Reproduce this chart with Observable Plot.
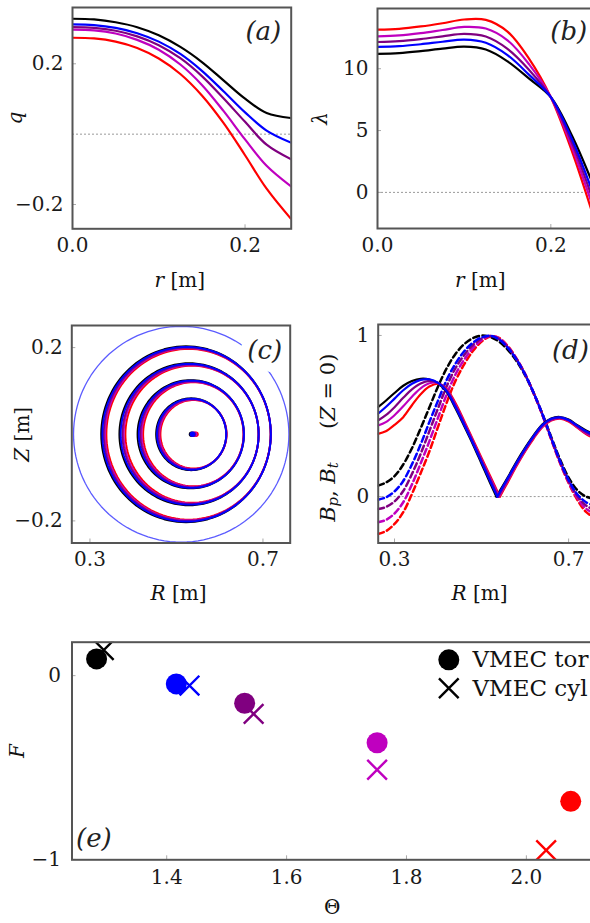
<!DOCTYPE html>
<html><head><meta charset="utf-8">
<script src="https://cdn.jsdelivr.net/npm/d3@7"></script>
<script src="https://cdn.jsdelivr.net/npm/@observablehq/plot@0.6"></script>
<style>
html,body{margin:0;padding:0;background:#fff;}
#fig{position:relative;width:590px;height:923px;overflow:hidden;background:#fff;}
</style></head><body><div id="fig"></div>
<script>
// ---------- series (five equilibria) ----------
const seriesNames  = ["case 1", "case 2", "case 3", "case 4", "case 5"];
const seriesColors = ["#000000", "#0000ff", "#800080", "#bf00bf", "#ff0000"];
const drawOrder = [0, 4, 3, 2, 1];

// ---------- (a) q(r) ----------
const rGrid = [0, 0.025, 0.05, 0.075, 0.1, 0.125, 0.15, 0.175, 0.2, 0.225, 0.253];
const q1 = [0.328, 0.326, 0.318, 0.304, 0.281, 0.248, 0.205, 0.153, 0.101, 0.060, 0.046];
const q2 = [0.312, 0.310, 0.302, 0.287, 0.263, 0.228, 0.180, 0.122, 0.062, 0.010, -0.024];
const q3 = [0.304, 0.302, 0.294, 0.278, 0.253, 0.216, 0.165, 0.102, 0.035, -0.030, -0.071];
const q4 = [0.297, 0.295, 0.286, 0.268, 0.240, 0.198, 0.140, 0.066, -0.015, -0.090, -0.148];
const q5 = [0.274, 0.272, 0.263, 0.245, 0.215, 0.171, 0.110, 0.032, -0.060, -0.155, -0.240];
const qTicks = [-0.2, 0.2];
const rTicks = [0.0, 0.2];

// ---------- (b) lambda(r) ----------
const lam1 = [11.2, 11.26, 11.42, 11.62, 11.78, 11.55, 10.6, 9.2, 7.7, 4.5, -0.1];
const lam2 = [11.76, 11.82, 11.98, 12.18, 12.35, 12.1, 11.1, 9.5, 7.7, 4.2, -0.9];
const lam3 = [12.16, 12.23, 12.4, 12.62, 12.82, 12.6, 11.6, 9.9, 7.7, 3.9, -1.5];
const lam4 = [12.62, 12.69, 12.88, 13.13, 13.38, 13.25, 12.3, 10.35, 7.7, 3.55, -2.1];
const lam5 = [13.16, 13.23, 13.42, 13.68, 13.98, 13.95, 13.0, 10.8, 7.7, 3.2, -2.8];
const lamTicks = [0, 5, 10];

// ---------- (c) flux surfaces: centre R, half-width a, half-height b (4 surfaces) ----------
const ringCenter = [
  [0.522, 0.529, 0.533, 0.534],
  [0.5235, 0.5305, 0.5345, 0.535],
  [0.525, 0.5325, 0.536, 0.5365],
  [0.5265, 0.534, 0.5375, 0.538],
  [0.528, 0.536, 0.539, 0.5395]];
const ringA = [
  [0.196, 0.161, 0.123, 0.081],
  [0.1948, 0.1595, 0.1215, 0.080],
  [0.193, 0.1575, 0.1195, 0.079],
  [0.1915, 0.156, 0.118, 0.0775],
  [0.190, 0.154, 0.116, 0.0765]];
const ringB = [
  [0.203, 0.164, 0.125, 0.083],
  [0.2015, 0.1625, 0.1238, 0.082],
  [0.200, 0.161, 0.1225, 0.081],
  [0.1985, 0.1595, 0.121, 0.080],
  [0.197, 0.158, 0.120, 0.079]];
const axisR = [0.535, 0.537, 0.539, 0.542, 0.545];
const boundaryCenter = 0.511, boundaryRadius = 0.249;
const RTicks = [0.3, 0.7];
const ZTicks = [-0.2, 0.2];

// ---------- (d) B_p (solid) and B_t (dashed) at Z = 0 ----------
const bpR = [0.262, 0.28, 0.30, 0.32, 0.34, 0.36, 0.38, 0.40, 0.42, 0.44, 0.46, 0.48, 0.50, 0.52,
             0.56, 0.58, 0.60, 0.62, 0.64, 0.66, 0.68, 0.70, 0.72, 0.74, 0.762];
const bpZeroR = [0.534, 0.536, 0.538, 0.540, 0.542];
const bp1 = [0.555,0.595,0.643,0.688,0.717,0.731,0.727,0.703,0.648,0.548,0.438,0.325,0.204,0.083, 0.118,0.215,0.302,0.381,0.448,0.485,0.494,0.478,0.443,0.410,0.383];
const bp2 = [0.514,0.556,0.608,0.660,0.700,0.724,0.728,0.706,0.653,0.556,0.446,0.333,0.214,0.094, 0.113,0.208,0.297,0.377,0.445,0.483,0.492,0.476,0.440,0.405,0.378];
const bp3 = [0.472,0.505,0.555,0.613,0.665,0.702,0.718,0.706,0.658,0.563,0.454,0.340,0.223,0.105, 0.105,0.202,0.291,0.372,0.441,0.479,0.490,0.473,0.436,0.399,0.371];
const bp4 = [0.441,0.462,0.505,0.560,0.620,0.672,0.703,0.705,0.663,0.571,0.462,0.347,0.231,0.116, 0.097,0.195,0.285,0.367,0.436,0.475,0.487,0.470,0.432,0.393,0.364];
const bp5 = [0.389,0.405,0.445,0.493,0.567,0.635,0.683,0.700,0.668,0.580,0.470,0.355,0.240,0.127, 0.088,0.188,0.280,0.362,0.432,0.472,0.484,0.466,0.428,0.388,0.357];
const btR = [0.262, 0.28, 0.30, 0.32, 0.34, 0.36, 0.38, 0.40, 0.42, 0.44, 0.46, 0.48, 0.50, 0.52,
             0.54, 0.56, 0.58, 0.60, 0.62, 0.64, 0.66, 0.68, 0.70, 0.72, 0.74, 0.762];
const bt1 = [0.068,0.087,0.127,0.199,0.300,0.423,0.553,0.683,0.797,0.885,0.946,0.983,0.999,0.990,0.962,0.912,0.843,0.752,0.640,0.512,0.370,0.233,0.118,0.040,0.000,-0.015];
const bt2 = [-0.019,-0.005,0.032,0.097,0.200,0.324,0.462,0.596,0.725,0.825,0.902,0.955,0.988,0.998,0.975,0.925,0.852,0.758,0.642,0.510,0.364,0.223,0.103,0.015,-0.035,-0.058];
const bt3 = [-0.077,-0.065,-0.030,0.035,0.140,0.265,0.406,0.548,0.685,0.797,0.878,0.941,0.980,0.997,0.978,0.928,0.854,0.759,0.641,0.508,0.361,0.219,0.097,0.005,-0.055,-0.085];
const bt4 = [-0.159,-0.145,-0.105,-0.035,0.075,0.205,0.343,0.490,0.635,0.758,0.850,0.922,0.971,0.996,0.982,0.932,0.856,0.760,0.640,0.506,0.358,0.214,0.090,-0.008,-0.075,-0.110];
const bt5 = [-0.232,-0.215,-0.170,-0.097,0.016,0.145,0.280,0.433,0.584,0.718,0.820,0.903,0.962,0.994,0.985,0.935,0.858,0.760,0.640,0.505,0.355,0.210,0.085,-0.020,-0.095,-0.135];
const BTicks = [0, 1];

// ---------- (e) F vs Theta ----------
const thetaTor = [1.283, 1.416, 1.530, 1.751, 2.074];
const fTor     = [0.091, -0.045, -0.150, -0.365, -0.684];
const thetaCyl = [1.295, 1.438, 1.545, 1.751, 2.033];
const fCyl     = [0.139, -0.054, -0.208, -0.512, -0.950];
const thetaTicks = [1.4, 1.6, 1.8, 2.0];
const FTicks = [-1, 0];
const legendLabels = ["VMEC tor", "VMEC cyl"];

// ---------- helpers ----------
const qSeries = [q1, q2, q3, q4, q5];
const lamSeries = [lam1, lam2, lam3, lam4, lam5];
const bpSeries = [bp1, bp2, bp3, bp4, bp5];
const btSeries = [bt1, bt2, bt3, bt4, bt5];

const SERIF = "'DejaVu Serif', 'Liberation Serif', serif";
const STYLE = `font-family: ${SERIF}; font-size: 20px; color: #1a1a1a; background: transparent; max-width: none; overflow: visible;`;
const fmt1 = d3.format(".1f");
const fmt0 = d3.format("d");
const fig = document.getElementById("fig");
const ctx = document.createElement("canvas").getContext("2d");
function tw(t, size, italic) { ctx.font = `${italic ? "italic " : ""}${size}px ${SERIF}`; return ctx.measureText(t).width; }

function mixedLabel(parts, {frameAnchor, dx = 0, dy = 0, rotate = 0, size = 20}) {
  const sizes = parts.map(p => p.sub ? size * 0.7 : size);
  const widths = parts.map((p, i) => tw(p.t, sizes[i], p.italic));
  const total = d3.sum(widths);
  let pos = -total / 2;
  return parts.map((p, i) => {
    const off = pos; pos += widths[i];
    const shift = p.sub ? size * 0.25 : 0;
    const ddx = rotate ? shift : off;
    const ddy = rotate ? -off : shift;
    return Plot.text([p.t], {text: d => d, frameAnchor, dx: dx + ddx, dy: dy + ddy, rotate,
      textAnchor: "start", lineAnchor: "middle", fontSize: sizes[i],
      fontStyle: p.italic ? "italic" : "normal", fontFamily: SERIF, fill: "#111"});
  });
}
function panelLabel(t, {frameAnchor = "top-right", dx = -10, dy = 24, halo = false, textAnchor = "end"} = {}) {
  return Plot.text([t], {text: d => d, frameAnchor, dx, dy, textAnchor, lineAnchor: "middle",
    fontSize: 26, fontStyle: "italic", fontFamily: SERIF, fill: "#222",
    stroke: halo ? "white" : null, strokeWidth: halo ? 18 : null, paintOrder: "stroke", strokeLinejoin: "round"});
}
function innerTicks(xTicks, yTicks, xDom, yDom, fw, fh) {
  const ex = (xDom[1] - xDom[0]) * 4 / fw, ey = (yDom[1] - yDom[0]) * 4 / fh;
  return [
    Plot.ruleX(xTicks, {x: d => d, y1: yDom[0], y2: yDom[0] + ey, stroke: "#aaa", strokeWidth: 1}),
    Plot.ruleY(yTicks, {y: d => d, x1: xDom[0], x2: xDom[0] + ex, stroke: "#aaa", strokeWidth: 1})
  ];
}
function panel({left, top, width, height, frame: [fx, fy, fw, fh], xDomain, yDomain, xTicks, yTicks, xFormat, yFormat, xPad = 9, yPad = 9, marks}) {
  const svg = Plot.plot({
    width, height,
    marginLeft: fx, marginTop: fy, marginRight: width - fx - fw, marginBottom: height - fy - fh,
    style: STYLE,
    color: {type: "identity"},
    x: {domain: xDomain, ticks: xTicks, tickFormat: xFormat, tickSize: 0, tickPadding: xPad, label: null},
    y: {domain: yDomain, ticks: yTicks, tickFormat: yFormat, tickSize: 0, tickPadding: yPad, label: null},
    marks: [...marks, ...innerTicks(xTicks, yTicks, xDomain, yDomain, fw, fh),
            Plot.frame({stroke: "#555", strokeWidth: 2})]
  });
  svg.style.position = "absolute";
  svg.style.left = left + "px";
  svg.style.top = top + "px";
  fig.appendChild(svg);
}
const zeroLine = () => Plot.ruleY([0], {stroke: "#999", strokeWidth: 1, strokeDasharray: "2,2"});

// ---------- (a) ----------
panel({
  left: 0, top: 0, width: 300, height: 300, frame: [72, 7, 218.7, 221.3],
  xDomain: [0, 0.2535], yDomain: [-0.269, 0.36], xTicks: rTicks, yTicks: qTicks,
  xFormat: fmt1, yFormat: fmt1,
  marks: [
    zeroLine(),
    ...drawOrder.map(i => Plot.line(rGrid.map((r, k) => ({r, v: qSeries[i][k]})),
      {x: "r", y: "v", stroke: seriesColors[i], strokeWidth: 2.2, curve: "catmull-rom", clip: true})),
    ...mixedLabel([{t: "q", italic: true}], {frameAnchor: "left", dx: -57, rotate: -90}),
    ...mixedLabel([{t: "r", italic: true}, {t: "\u00a0[m]"}], {frameAnchor: "bottom", dx: -2, dy: 52}),
    panelLabel("(a)", {dx: -10, dy: 24})
  ]
});

// ---------- (b) ----------
panel({
  left: 300, top: 0, width: 300, height: 300, frame: [77, 8, 219.7, 220],
  xDomain: [0, 0.2535], yDomain: [-2.92, 14.87], xTicks: rTicks, yTicks: lamTicks,
  xFormat: fmt1, yFormat: fmt0,
  marks: [
    zeroLine(),
    ...drawOrder.map(i => Plot.line(rGrid.map((r, k) => ({r, v: lamSeries[i][k]})),
      {x: "r", y: "v", stroke: seriesColors[i], strokeWidth: 2.2, curve: "catmull-rom", clip: true})),
    ...mixedLabel([{t: "λ", italic: true}], {frameAnchor: "left", dx: -57, rotate: -90}),
    ...mixedLabel([{t: "r", italic: true}, {t: "\u00a0[m]"}], {frameAnchor: "bottom", dx: -7, dy: 52}),
    panelLabel("(b)", {dx: -10, dy: 23})
  ]
});

// ---------- (c) ----------
const nAng = 120;
const ringMarks = [];
drawOrder.forEach(i => {
  ringCenter[i].forEach((c, k) => {
    const pts = d3.range(nAng + 1).map(j => {
      const th = 2 * Math.PI * j / nAng;
      return {R: c + ringA[i][k] * Math.cos(th), Z: ringB[i][k] * Math.sin(th)};
    });
    ringMarks.push(Plot.line(pts, {x: "R", y: "Z", stroke: seriesColors[i], strokeWidth: 1.9}));
  });
});
const boundaryPts = d3.range(nAng + 1).map(j => {
  const th = 2 * Math.PI * j / nAng;
  return {R: boundaryCenter + boundaryRadius * Math.cos(th), Z: boundaryRadius * Math.sin(th)};
});
panel({
  left: 0, top: 300, width: 300, height: 310, frame: [71.3, 25, 218.4, 217.5],
  xDomain: [0.258, 0.763], yDomain: [-0.251, 0.251], xTicks: RTicks, yTicks: ZTicks,
  xFormat: fmt1, yFormat: fmt1,
  marks: [
    Plot.line(boundaryPts, {x: "R", y: "Z", stroke: "#5c5cff", strokeWidth: 1.3}),
    ...ringMarks,
    ...drawOrder.map(i => Plot.dot([{R: axisR[i], Z: 0}], {x: "R", y: "Z", r: 2.8, fill: seriesColors[i], stroke: "none"})),
    ...mixedLabel([{t: "Z", italic: true}, {t: "\u00a0[m]"}], {frameAnchor: "left", dx: -49.6, rotate: -90}),
    ...mixedLabel([{t: "R", italic: true}, {t: "\u00a0[m]"}], {frameAnchor: "bottom", dx: -2.5, dy: 50.5}),
    panelLabel("(c)", {dx: -8, dy: 25, halo: true})
  ]
});

// ---------- (d) ----------
const bpMarks = [], btMarks = [];
drawOrder.forEach(i => {
  const v = bpZeroR[i];
  const pts = bpR.map((R, k) => ({R, B: bpSeries[i][k]}));
  const leftArm = pts.filter(d => d.R < v).concat([{R: v, B: 0}]);
  const rightArm = [{R: v, B: 0}].concat(pts.filter(d => d.R > v));
  bpMarks.push(Plot.line(leftArm, {x: "R", y: "B", stroke: seriesColors[i], strokeWidth: 2.2, curve: "catmull-rom", clip: true}));
  bpMarks.push(Plot.line(rightArm, {x: "R", y: "B", stroke: seriesColors[i], strokeWidth: 2.2, curve: "catmull-rom", clip: true}));
  btMarks.push(Plot.line(btR.map((R, k) => ({R, B: btSeries[i][k]})),
    {x: "R", y: "B", stroke: seriesColors[i], strokeWidth: 2.5, strokeDasharray: "6,3.5", curve: "catmull-rom", clip: true}));
});
panel({
  left: 300, top: 300, width: 300, height: 310, frame: [77.7, 24, 218.7, 218.5],
  xDomain: [0.2625, 0.765], yDomain: [-0.288, 1.068], xTicks: RTicks, yTicks: BTicks,
  xFormat: fmt1, yFormat: fmt0,
  marks: [
    zeroLine(),
    ...btMarks,
    ...bpMarks,
    ...mixedLabel([
      {t: "B", italic: true}, {t: "p", italic: true, sub: true}, {t: ",\u00a0"},
      {t: "B", italic: true}, {t: "t", italic: true, sub: true},
      {t: "\u00a0\u00a0\u00a0\u00a0\u00a0("}, {t: "Z", italic: true}, {t: "\u00a0=\u00a00)"}],
      {frameAnchor: "left", dx: -49.7, dy: 4, rotate: -90, size: 21}),
    ...mixedLabel([{t: "R", italic: true}, {t: "\u00a0[m]"}], {frameAnchor: "bottom", dx: -8, dy: 50.5}),
    panelLabel("(d)", {dx: -8, dy: 26})
  ]
});

// ---------- (e) ----------
panel({
  left: 0, top: 620, width: 600, height: 303, frame: [71.5, 21.7, 524.5, 217.6],
  xDomain: [1.242, 2.117], yDomain: [-1.002, 0.182], xTicks: thetaTicks, yTicks: FTicks,
  xFormat: fmt1, yFormat: fmt0, xPad: 10, yPad: 11,
  marks: [
    Plot.dot(thetaTor.map((t, k) => ({t, f: fTor[k], c: seriesColors[k]})),
      {x: "t", y: "f", r: 10.5, fill: "c", stroke: "none", clip: true}),
    Plot.dot(thetaCyl.map((t, k) => ({t, f: fCyl[k], c: seriesColors[k]})),
      {x: "t", y: "f", r: 9, symbol: "times", stroke: "c", strokeWidth: 2.4, clip: true}),
    Plot.dot([0], {x: null, y: null, frameAnchor: "top-left", dx: 376.8, dy: 17.6, r: 10.5, fill: "#000", stroke: "none"}),
    Plot.dot([0], {x: null, y: null, frameAnchor: "top-left", dx: 376.8, dy: 46, r: 9, symbol: "times", stroke: "#000", strokeWidth: 2.4}),
    Plot.text([legendLabels[0]], {text: d => d, frameAnchor: "top-left", dx: 400.5, dy: 17.6, textAnchor: "start", lineAnchor: "middle", fontSize: 23, fontFamily: SERIF, fill: "#111"}),
    Plot.text([legendLabels[1]], {text: d => d, frameAnchor: "top-left", dx: 400.5, dy: 46, textAnchor: "start", lineAnchor: "middle", fontSize: 23, fontFamily: SERIF, fill: "#111"}),
    ...mixedLabel([{t: "F", italic: true}], {frameAnchor: "left", dx: -54.5, rotate: -90}),
    ...mixedLabel([{t: "Θ"}], {frameAnchor: "bottom", dx: -2, dy: 47.7}),
    panelLabel("(e)", {frameAnchor: "bottom-left", dx: 4, dy: -21, textAnchor: "start"})
  ]
});
</script></body></html>
